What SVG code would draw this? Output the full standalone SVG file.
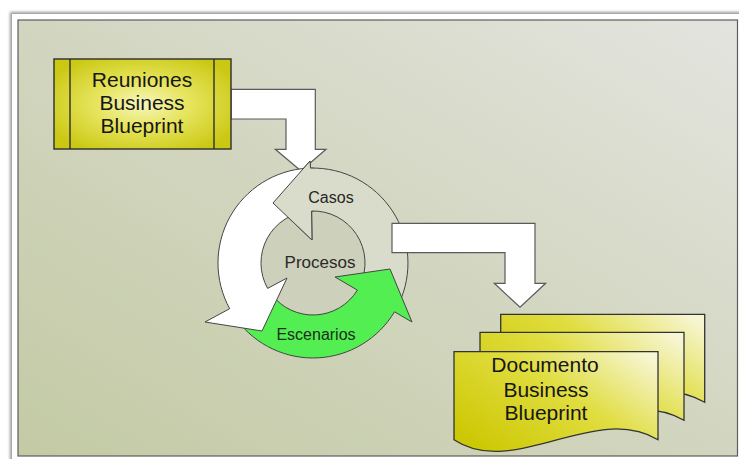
<svg xmlns="http://www.w3.org/2000/svg" width="739" height="459" viewBox="0 0 739 459">
  <defs>
    <linearGradient id="panelFill" x1="0" y1="1" x2="1" y2="0">
      <stop offset="0" stop-color="#c3caa4"/>
      <stop offset="0.5" stop-color="#d2d6c0"/>
      <stop offset="1" stop-color="#e4e4df"/>
    </linearGradient>
    <radialGradient id="boxFill" cx="0.5" cy="0.5" r="0.6">
      <stop offset="0" stop-color="#f6f6bc"/>
      <stop offset="0.45" stop-color="#e6e45c"/>
      <stop offset="1" stop-color="#cac812"/>
    </radialGradient>
    <linearGradient id="docFill" x1="0" y1="0.8" x2="1" y2="0.1">
      <stop offset="0" stop-color="#cdc804"/>
      <stop offset="0.55" stop-color="#e0dd40"/>
      <stop offset="1" stop-color="#f7f6d4"/>
    </linearGradient>
    <filter id="soft" x="-5%" y="-5%" width="110%" height="110%">
      <feGaussianBlur stdDeviation="1.5"/>
    </filter>
    <!-- area of the "Casos" arrowhead, painted again over the white arc -->
    <clipPath id="casosHead">
      <polygon points="314,156 267,203 314,246"/>
    </clipPath>
    <path id="docShape" d="M0,0 H204 V88 C140,50 60,128 0,88 Z"/>
    <path id="casosArrow" d="M399.1,303.15 A95,95 0 0 0 310.5,168.1 L310,161 L273,203 L312,240 L311.6,211 A52,52 0 0 1 360.13,284.98 Z"/>
  </defs>
  <style>
    .lbl { font-family: "Liberation Sans", Arial, Helvetica, sans-serif; text-anchor: middle; }
    .big { font-size: 21px; fill: #161616; }
    .ring { stroke: #454545; stroke-width: 1; stroke-linejoin: miter; }
    .conn { fill: #ffffff; stroke: #5a5a5a; stroke-width: 1.2; }
    .doc { fill: url(#docFill); stroke: #333333; stroke-width: 1.3; }
  </style>

  <!-- mat and frame -->
  <rect x="0" y="0" width="739" height="459" fill="#ffffff"/>
  <rect x="10" y="12" width="740" height="460" fill="#9a9a9a" filter="url(#soft)"/>
  <rect x="12" y="14" width="730" height="450" fill="#ffffff"/>
  <rect x="18" y="20" width="719.5" height="436" fill="url(#panelFill)" stroke="#5c5c5c" stroke-width="1.2"/>

  <!-- connectors -->
  <g id="connectors">
    <path class="conn" d="M231,89.3 H315.3 V149.3 H326 L301,171 L275.3,149.3 H286 V119 H231 Z"/>
  </g>

  <!-- Reuniones Business Blueprint -->
  <g id="reuniones">
    <rect x="54" y="59" width="177" height="90" fill="url(#boxFill)" stroke="#2e2e2e" stroke-width="1.4"/>
    <line x1="70" y1="59" x2="70" y2="149" stroke="#2e2e2e" stroke-width="1.4"/>
    <line x1="214" y1="59" x2="214" y2="149" stroke="#2e2e2e" stroke-width="1.4"/>
    <text class="lbl big" x="142" y="87">Reuniones</text>
    <text class="lbl big" x="142" y="110">Business</text>
    <text class="lbl big" x="142" y="133">Blueprint</text>
  </g>

  <!-- cycle: Casos / Escenarios / white arc around Procesos -->
  <g id="cycle">
    <circle cx="313" cy="263" r="52" fill="#cdd0ba"/>
    <g id="casos">
      <use href="#casosArrow" class="ring" fill="#dadccb"/>
    </g>
    <g id="escenarios">
      <path class="ring" fill="#52ee52" d="M237.13,320.17 A95,95 0 0 0 394.5,311.8 L412,322 L390,269 L335,277 L357.4,290.1 A52,52 0 0 1 271.47,294.29 Z"/>
    </g>
    <g id="white-arc">
      <path class="ring" fill="#ffffff" d="M307.2,168.18 A95,95 0 0 0 229.7,308.7 L205,322 L262,331 L287,278 L267.6,288.4 A52,52 0 0 1 309.83,211.1 Z"/>
    </g>
    <g clip-path="url(#casosHead)">
      <use href="#casosArrow" class="ring" fill="#dadccb"/>
    </g>
    <text class="lbl" x="331" y="203" font-size="16" fill="#262626">Casos</text>
    <text class="lbl" x="320" y="268" font-size="17" fill="#2a2a2a">Procesos</text>
    <text class="lbl" x="316" y="340" font-size="16" fill="#1a2e1a">Escenarios</text>
  </g>

  <g id="connectors-2">
    <path class="conn" d="M392,223.3 H535 V283.3 H545.7 L520,307.3 L494.3,283.3 H505 V252.7 H392 Z"/>
  </g>

  <!-- Documento Business Blueprint (stack of pages) -->
  <g id="documento">
    <use href="#docShape" class="doc" transform="translate(500.7,314.3)"/>
    <use href="#docShape" class="doc" transform="translate(480,332.3)"/>
    <use href="#docShape" class="doc" transform="translate(454,351.7)"/>
    <text class="lbl big" x="545" y="372">Documento</text>
    <text class="lbl big" x="546" y="397">Business</text>
    <text class="lbl big" x="546" y="420">Blueprint</text>
  </g>
</svg>
